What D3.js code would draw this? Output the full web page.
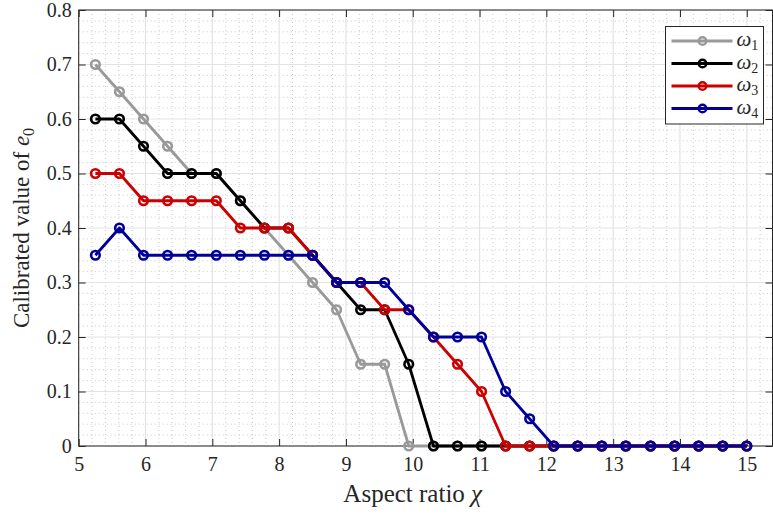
<!DOCTYPE html>
<html>
<head>
<meta charset="utf-8">
<script src="https://cdn.jsdelivr.net/npm/d3@7"></script>
<style>
  body { margin: 0; background: #fff; }
  svg { display: block; }
  text { font-family: "Liberation Serif", "DejaVu Serif", serif; fill: #262626; }
</style>
</head>
<body>
<div id="chart"></div>
<script>
// Aspect ratio values (x)
var chi = [5.25, 5.61, 5.97, 6.33, 6.69, 7.06, 7.42, 7.78, 8.14, 8.5, 8.86, 9.22, 9.58, 9.94,
  10.31, 10.67, 11.03, 11.39, 11.75, 12.11, 12.47, 12.83, 13.19, 13.56, 13.92, 14.28, 14.64, 15]

// Calibrated e0 per omega
var omega1 = [0.7, 0.65, 0.6, 0.55, 0.5, 0.5, 0.45, 0.4, 0.35, 0.3, 0.25, 0.15, 0.15, 0,
  0, 0, 0, 0, 0, 0, 0, 0, 0, 0, 0, 0, 0, 0]
var omega2 = [0.6, 0.6, 0.55, 0.5, 0.5, 0.5, 0.45, 0.4, 0.4, 0.35, 0.3, 0.25, 0.25, 0.15,
  0, 0, 0, 0, 0, 0, 0, 0, 0, 0, 0, 0, 0, 0]
var omega3 = [0.5, 0.5, 0.45, 0.45, 0.45, 0.45, 0.4, 0.4, 0.4, 0.35, 0.3, 0.3, 0.25, 0.25,
  0.2, 0.15, 0.1, 0, 0, 0, 0, 0, 0, 0, 0, 0, 0, 0]
var omega4 = [0.35, 0.4, 0.35, 0.35, 0.35, 0.35, 0.35, 0.35, 0.35, 0.35, 0.3, 0.3, 0.3, 0.25,
  0.2, 0.2, 0.2, 0.1, 0.05, 0, 0, 0, 0, 0, 0, 0, 0, 0]

var seriesNames = ["1", "2", "3", "4"]
var seriesColors = ["#999999", "#000000", "#cc0000", "#000099"]

var xTicks = [5, 6, 7, 8, 9, 10, 11, 12, 13, 14, 15]
var yTicks = [0, 0.1, 0.2, 0.3, 0.4, 0.5, 0.6, 0.7, 0.8]

var W = 773, H = 515
var margin = { top: 10, right: 0.5, bottom: 69, left: 78.7 }
var width = W - margin.left - margin.right
var height = H - margin.top - margin.bottom

var svg = d3.select("#chart").append("svg")
  .attr("width", W)
  .attr("height", H)

var g = svg.append("g")
  .attr("transform", "translate(" + margin.left + "," + margin.top + ")")

var x = d3.scaleLinear().domain([5, 15.385]).range([0, width])
var y = d3.scaleLinear().domain([0, 0.8]).range([height, 0])

// Minor grid (dotted)
var xMinor = d3.range(50, 154, 2).map(d => d / 10).filter(d => d % 1 !== 0)
var yMinor = d3.range(0, 81, 2).map(d => d / 100).filter(d => Math.round(d * 100) % 10 !== 0)

g.append("g").selectAll("line").data(xMinor).enter().append("line")
  .attr("x1", d => x(d)).attr("x2", d => x(d))
  .attr("y1", 0).attr("y2", height)
  .attr("stroke", "#c8c8c8").attr("stroke-width", 1)
  .attr("stroke-dasharray", "1,3")

g.append("g").selectAll("line").data(yMinor).enter().append("line")
  .attr("x1", 0).attr("x2", width)
  .attr("y1", d => y(d)).attr("y2", d => y(d))
  .attr("stroke", "#c8c8c8").attr("stroke-width", 1)
  .attr("stroke-dasharray", "1,3")

// Major grid
g.append("g").selectAll("line").data(xTicks).enter().append("line")
  .attr("x1", d => x(d)).attr("x2", d => x(d))
  .attr("y1", 0).attr("y2", height)
  .attr("stroke", "#e3e3e3").attr("stroke-width", 1.2)

g.append("g").selectAll("line").data(yTicks).enter().append("line")
  .attr("x1", 0).attr("x2", width)
  .attr("y1", d => y(d)).attr("y2", d => y(d))
  .attr("stroke", "#e3e3e3").attr("stroke-width", 1.2)

// Axes
function styleAxis(sel) {
  sel.select(".domain").remove()
  sel.selectAll(".tick line").attr("stroke", "#262626").attr("stroke-width", 1)
  sel.selectAll(".tick text").style("font-size", "20px").attr("fill", "#262626")
}

g.append("g")
  .attr("transform", "translate(0," + height + ")")
  .call(d3.axisBottom(x).tickValues(xTicks).tickSize(-7).tickPadding(11).tickFormat(d3.format("d")))
  .call(styleAxis)

g.append("g")
  .call(d3.axisTop(x).tickValues(xTicks).tickSize(-7).tickFormat(""))
  .call(styleAxis)

g.append("g")
  .call(d3.axisLeft(y).tickValues(yTicks).tickSize(-7).tickPadding(7).tickFormat(d => d === 0 ? "0" : d3.format(".1f")(d)))
  .call(styleAxis)

g.append("g")
  .attr("transform", "translate(" + width + ",0)")
  .call(d3.axisRight(y).tickValues(yTicks).tickSize(-7).tickFormat(""))
  .call(styleAxis)

g.append("rect")
  .attr("width", width).attr("height", height)
  .attr("fill", "none").attr("stroke", "#262626").attr("stroke-width", 1)

// Series
var seriesData = [omega1, omega2, omega3, omega4]
var line = d3.line().x(d => x(d[0])).y(d => y(d[1]))

seriesData.forEach(function(vals, i) {
  var pts = chi.map((c, j) => [c, vals[j]])
  var sg = g.append("g").attr("class", "series")
  sg.append("path")
    .datum(pts)
    .attr("d", line)
    .attr("fill", "none")
    .attr("stroke", seriesColors[i])
    .attr("stroke-width", 2.8)
    .attr("stroke-linejoin", "round")
  sg.selectAll("circle").data(pts).enter().append("circle")
    .attr("cx", d => x(d[0]))
    .attr("cy", d => y(d[1]))
    .attr("r", 4.3)
    .attr("fill", "none")
    .attr("stroke", seriesColors[i])
    .attr("stroke-width", 2.6)
})

// Legend
var legend = svg.append("g").attr("transform", "translate(665.5,26.5)")
legend.append("rect")
  .attr("width", 98).attr("height", 97.5)
  .attr("fill", "#fff").attr("stroke", "#262626").attr("stroke-width", 1)

seriesNames.forEach(function(name, i) {
  var ly = 14.5 + i * 22.5
  legend.append("line")
    .attr("x1", 6).attr("x2", 67).attr("y1", ly).attr("y2", ly)
    .attr("stroke", seriesColors[i]).attr("stroke-width", 2.8)
  legend.append("circle")
    .attr("cx", 37).attr("cy", ly).attr("r", 3.8)
    .attr("fill", "none").attr("stroke", seriesColors[i]).attr("stroke-width", 2.4)
  var t = legend.append("text")
    .attr("x", 71).attr("y", ly + 5)
    .style("font-size", "21px")
  t.append("tspan").style("font-style", "italic").text("ω")
  t.append("tspan").attr("dy", 4).style("font-size", "14px").text(name)
})

// Axis labels
var xl = svg.append("text")
  .attr("x", margin.left + x(10))
  .attr("y", 502)
  .attr("text-anchor", "middle")
  .style("font-size", "25px")
xl.append("tspan").text("Aspect ratio ")
xl.append("tspan").style("font-style", "italic").text("χ")

var yl = svg.append("text")
  .attr("transform", "translate(29," + (margin.top + height / 2) + ") rotate(-90)")
  .attr("text-anchor", "middle")
  .style("font-size", "23px")
yl.append("tspan").text("Calibrated value of ")
yl.append("tspan").style("font-style", "italic").text("e")
yl.append("tspan").attr("dy", 5).style("font-size", "16px").text("0")
</script>
</body>
</html>
